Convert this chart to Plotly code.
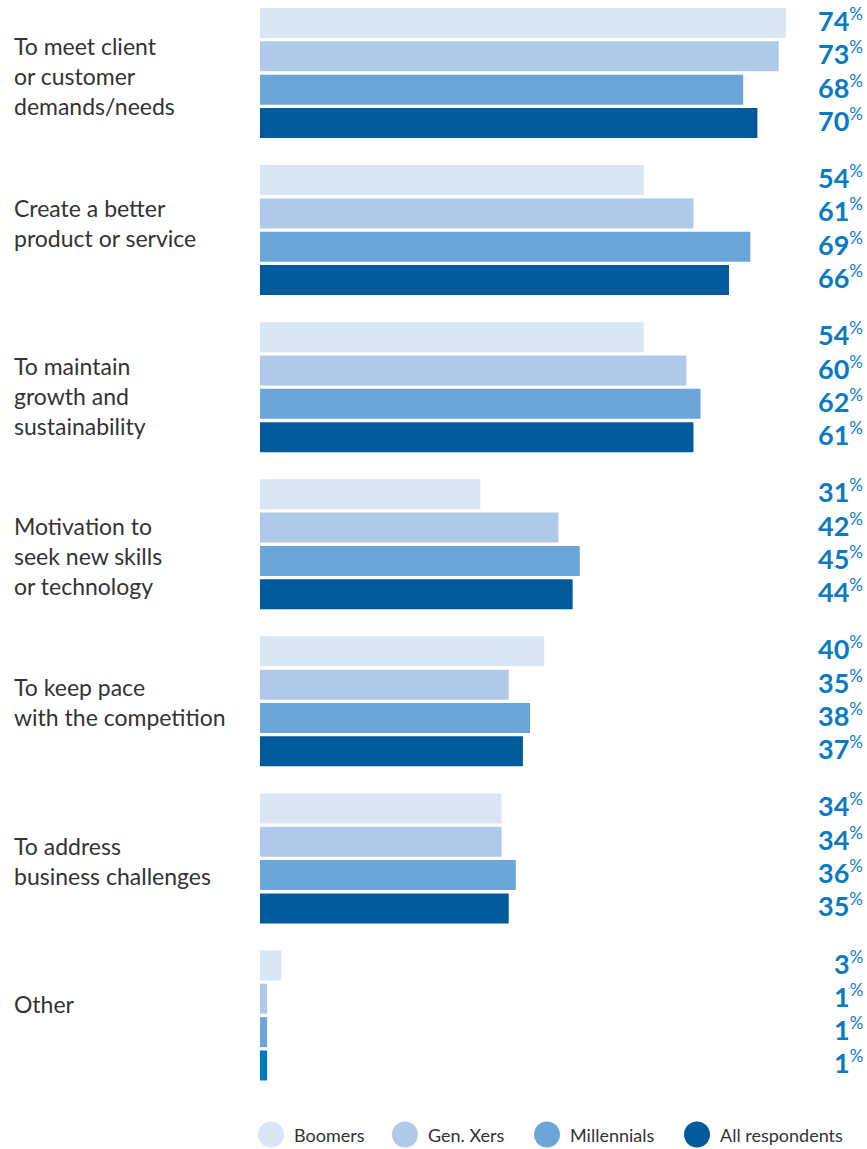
import plotly.graph_objects as go

# Survey reasons and share of respondents (%) by generation
categories = [
    "To meet client<br>or customer<br>demands/needs",
    "Create a better<br>product or service",
    "To maintain<br>growth and<br>sustainability",
    "Motivation to<br>seek new skills<br>or technology",
    "To keep pace<br>with the competition",
    "To address<br>business challenges",
    "Other",
]
series_names = ["Boomers", "Gen. Xers", "Millennials", "All respondents"]
boomers = [74, 54, 54, 31, 40, 34, 3]
gen_xers = [73, 61, 60, 42, 35, 34, 1]
millennials = [68, 69, 62, 45, 38, 36, 1]
all_respondents = [70, 66, 61, 44, 37, 35, 1]
series_values = [boomers, gen_xers, millennials, all_respondents]

colors = ["#DAE6F4", "#AFC9E9", "#6CA6D9", "#005A9C"]
other_all_color = "#0079C1"
label_blue = "#0A7AC4"
text_grey = "#333333"

W, H = 867, 1149
M_L, M_R, M_T, M_B = 260, 3, 0, 55
PLOT_W = W - M_L - M_R
PLOT_H = H - M_T - M_B


def px_to_paper_x(px):
    return (px - M_L) / PLOT_W


def px_to_paper_y(py):
    return (H - M_B - py) / PLOT_H


fig = go.Figure()
for i, (name, vals) in enumerate(zip(series_names, series_values)):
    col = colors[i]
    if i == 3:
        col = [colors[i]] * (len(vals) - 1) + [other_all_color]
    fig.add_trace(go.Bar(
        y=categories, x=vals, name=name, orientation="h",
        marker=dict(color=col, line=dict(width=0)),
        showlegend=False, hoverinfo="x+name",
    ))

annotations = []
# value labels aligned at the right edge, one per bar, with a raised "%"
slot_px = 33.3
for i, vals in enumerate(series_values):
    shift = (1.5 - i) * slot_px
    for cat, v in zip(categories, vals):
        annotations.append(dict(
            x=1, xref="paper", y=cat, yref="y", xanchor="right", yanchor="middle",
            xshift=-1, yshift=shift + 3, borderpad=0, borderwidth=0,
            text=f"<b>{v}</b><sup><span style='font-size:17px'>%</span></sup>",
            showarrow=False,
            font=dict(family="Lato", size=27, color=label_blue),
        ))

# category labels, left aligned
label_shift = [-3, 7.5, -9, -12, -0.5, -3, 11]
for cat, ys in zip(categories, label_shift):
    annotations.append(dict(
        x=px_to_paper_x(12), xref="paper", y=cat, yref="y",
        xanchor="left", yanchor="middle", align="left", yshift=ys,
        text=cat, showarrow=False,
        font=dict(family="Lato", size=23, color=text_grey),
    ))

# legend drawn as circles with labels below the plot
legend_circle_x = [271, 405, 547, 697]
legend_y = px_to_paper_y(1134.5)
shapes = []
for name, col, cx in zip(series_names, colors, legend_circle_x):
    shapes.append(dict(
        type="circle", xref="paper", yref="paper",
        xsizemode="pixel", ysizemode="pixel",
        xanchor=px_to_paper_x(cx), yanchor=legend_y,
        x0=-13, x1=13, y0=-13, y1=13,
        fillcolor=col, line=dict(width=0),
    ))
    annotations.append(dict(
        x=px_to_paper_x(cx + 21), xref="paper", y=legend_y, yref="paper",
        xanchor="left", yanchor="middle", text=name, showarrow=False,
        font=dict(family="Lato", size=18, color=text_grey),
    ))

fig.update_layout(
    width=W, height=H,
    margin=dict(l=M_L, r=M_R, t=M_T, b=M_B),
    paper_bgcolor="white", plot_bgcolor="white",
    barmode="group", bargap=0.151, bargroupgap=0.1,
    xaxis=dict(range=[0, 85], visible=False, fixedrange=True),
    yaxis=dict(range=[6.5, -0.465], showticklabels=False, showgrid=False,
               zeroline=False, showline=False, ticks="", fixedrange=True),
    annotations=annotations, shapes=shapes,
    showlegend=False,
)

fig.write_html("out.html", config={"displayModeBar": False})
